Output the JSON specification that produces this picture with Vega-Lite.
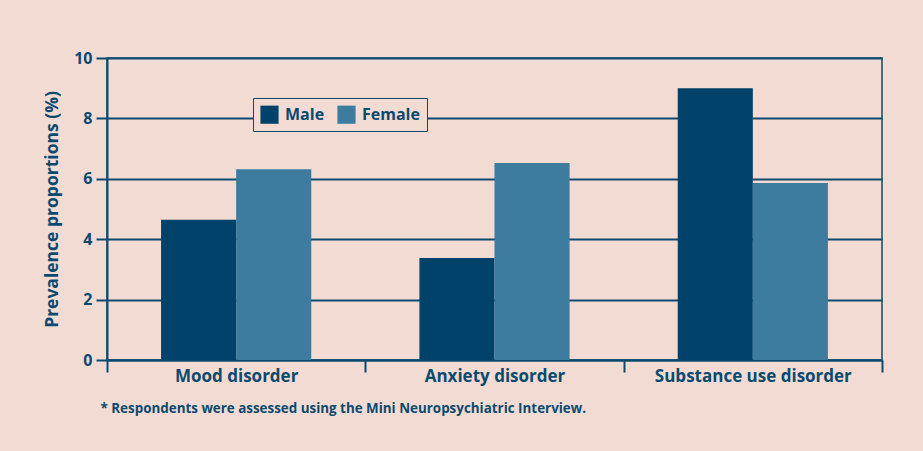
{
  "$schema": "https://vega.github.io/schema/vega-lite/v6.json",
  "autosize": "none",
  "width": 775,
  "height": 302,
  "padding": {"left": 107, "top": 58, "right": 41, "bottom": 91},
  "background": "#f2dbd3",
  "data": {
    "values": [
      {"disorder": "Mood disorder", "sex": "Male", "value": 4.64},
      {"disorder": "Mood disorder", "sex": "Female", "value": 6.32},
      {"disorder": "Anxiety disorder", "sex": "Male", "value": 3.38},
      {"disorder": "Anxiety disorder", "sex": "Female", "value": 6.52},
      {"disorder": "Substance use disorder", "sex": "Male", "value": 9.0},
      {"disorder": "Substance use disorder", "sex": "Female", "value": 5.86}
    ]
  },
  "mark": {"type": "bar"},
  "encoding": {
    "x": {
      "field": "disorder",
      "type": "nominal",
      "sort": ["Mood disorder", "Anxiety disorder", "Substance use disorder"],
      "scale": {"paddingInner": 0, "paddingOuter": 0},
      "axis": {
        "title": "* Respondents were assessed using the Mini Neuropsychiatric Interview.",
        "titleAnchor": "start",
        "titleAlign": "left",
        "titleX": -7,
        "titleY": 48,
        "titleBaseline": "middle",
        "titleFont": "Open Sans",
        "titleFontSize": 13.4,
        "titleFontWeight": "bold",
        "titleColor": "#0b4a6f",
        "labelAngle": 0,
        "labelLimit": 0,
        "labelFont": "Open Sans",
        "labelFontSize": 17,
        "labelFontWeight": "bold",
        "labelColor": "#0b4a6f",
        "labelPadding": -4,
        "tickBand": "extent",
        "tickSize": 12,
        "tickWidth": 2,
        "tickColor": "#0b4a6f",
        "domainColor": "#0b4a6f",
        "domainWidth": 2,
        "grid": false
      }
    },
    "xOffset": {
      "field": "sex",
      "type": "nominal",
      "sort": ["Male", "Female"],
      "scale": {"paddingInner": 0, "paddingOuter": 0.72}
    },
    "y": {
      "field": "value",
      "type": "quantitative",
      "scale": {"domain": [0, 10], "nice": false},
      "axis": {
        "title": "Prevalence proportions (%)",
        "titleFont": "Open Sans",
        "titleFontSize": 17.5,
        "titleFontWeight": "bold",
        "titleColor": "#0b4a6f",
        "titlePadding": 12,
        "values": [0, 2, 4, 6, 8, 10],
        "labelFont": "Open Sans",
        "labelFontSize": 16,
        "labelFontWeight": "bold",
        "labelColor": "#0b4a6f",
        "labelPadding": 4,
        "tickSize": 11,
        "tickWidth": 2,
        "tickColor": "#0b4a6f",
        "domainColor": "#0b4a6f",
        "domainWidth": 2,
        "grid": true,
        "gridColor": "#0b4a6f",
        "gridWidth": 2,
        "gridOpacity": 1
      }
    },
    "color": {
      "field": "sex",
      "type": "nominal",
      "scale": {"domain": ["Male", "Female"], "range": ["#00426a", "#3d7b9f"]},
      "legend": {
        "title": null,
        "orient": "none",
        "legendX": 146,
        "legendY": 40,
        "direction": "horizontal",
        "fillColor": "#f2dbd3",
        "strokeColor": "#0b4a6f",
        "padding": 7,
        "symbolType": "square",
        "symbolSize": 330,
        "symbolStrokeWidth": 0,
        "symbolOpacity": 1,
        "labelFont": "Open Sans",
        "labelFontSize": 16,
        "labelFontWeight": "bold",
        "labelColor": "#0b4a6f",
        "labelOffset": 6,
        "columnPadding": 12
      }
    }
  },
  "config": {
    "view": {"stroke": "#0b4a6f", "strokeWidth": 1.5}
  }
}
